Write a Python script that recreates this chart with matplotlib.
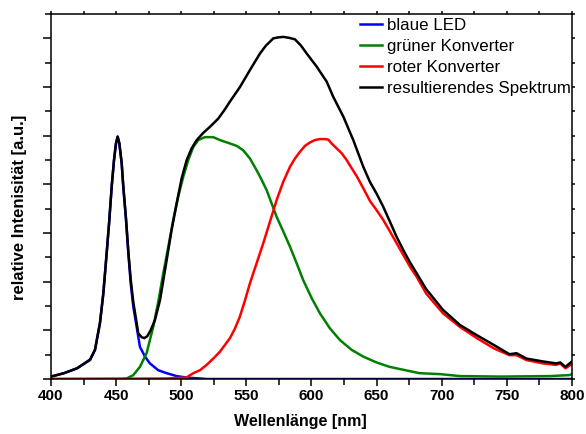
import matplotlib.pyplot as plt
import numpy as np
from matplotlib.ticker import MultipleLocator

plt.rcParams['font.family'] = ['Liberation Sans', 'DejaVu Sans']

# blaue LED
wl_blue = [400, 410, 420, 430, 433.8, 437.6, 440.2, 442.8, 444.8, 446.6, 448.4, 449.9,
           451.2, 452.5, 454.3, 455.5, 457.6, 459.4, 461.2, 463.2, 465.8, 468.3,
           472.2, 476, 482.4, 488.8, 496.5, 504, 520, 800]
val_blue = [0.05, 0.12, 0.22, 0.39, 0.6, 1.15, 1.76, 2.6, 3.27, 3.95, 4.5, 4.84,
            4.98, 4.84, 4.43, 3.95, 3.27, 2.58, 1.97, 1.49, 1.07, 0.66,
            0.46, 0.32, 0.18, 0.12, 0.06, 0.03, 0.0, 0.0]

# gruener Konverter
wl_green = [400, 455, 458, 463.2, 468.3, 473.4, 478.5, 482.4, 486.2, 490.1, 493.9,
            497.7, 501.6, 505.4, 509.3, 513.1, 518.2, 524.6, 529.7, 537.4, 542.6,
            547.6, 552.8, 557.9, 561.8, 565.6, 569.4, 573.3, 578.4, 583.5, 588.6,
            593.7, 600.2, 606.5, 614.2, 621.9, 630.8, 639.8, 650, 660, 670.5, 683,
            699, 714, 745, 783, 798, 800]
val_green = [0.0, 0.0, 0.01, 0.08, 0.25, 0.53, 1.07, 1.59, 2.17, 2.72, 3.27,
             3.75, 4.16, 4.5, 4.77, 4.91, 4.97, 4.97, 4.91, 4.84, 4.79,
             4.7, 4.53, 4.29, 4.09, 3.88, 3.61, 3.33, 3.03, 2.72, 2.38,
             2.03, 1.66, 1.35, 1.04, 0.8, 0.6, 0.46, 0.34, 0.25, 0.19, 0.12,
             0.1, 0.06, 0.05, 0.06, 0.08, 0.1]

# roter Konverter
wl_red = [400, 488, 496, 504, 509.3, 514.4, 519.5, 524.6, 529.7, 537.4, 541.3, 545,
          549, 552.8, 557.9, 563, 568.1, 573.3, 578.3, 583.5, 587.3, 591.2, 595,
          598.8, 602.7, 606.5, 610.4, 612.9, 615.5, 619.3, 623.2, 627, 630.9,
          634.7, 639.8, 644.9, 650, 655.1, 660.3, 665.4, 670.5, 675.6, 680.8, 688,
          701, 714, 727, 740, 752, 757.5, 765, 778, 788, 791, 795, 800]
val_red = [0.0, 0.01, 0.02, 0.03, 0.12, 0.18, 0.29, 0.42, 0.56, 0.84, 1.04, 1.28,
           1.62, 1.97, 2.38, 2.79, 3.23, 3.68, 4.05, 4.36, 4.53, 4.67, 4.79,
           4.86, 4.91, 4.93, 4.93, 4.92, 4.84, 4.74, 4.64, 4.5, 4.33,
           4.17, 3.92, 3.66, 3.47, 3.27, 3.03, 2.79, 2.55, 2.31, 2.1, 1.76,
           1.35, 1.07, 0.84, 0.63, 0.49, 0.49, 0.39, 0.32, 0.29, 0.32, 0.22, 0.31]

# resultierendes Spektrum
wl_sum = [400, 410, 420, 430, 433.8, 437.6, 440.2, 442.8, 444.8, 446.6, 448.4, 449.9,
          451.2, 452.5, 454.3, 455.5, 457.6, 459.4, 461.2, 463.2, 465.8, 467,
          469.6, 471.6, 474, 476.5, 479.8, 483.7, 488.8, 492.6, 496.5, 500.3,
          504.2, 508, 511.9, 517, 522, 528.4, 533, 537.4, 545.1, 552.8, 560.5,
          565, 570.7, 574.5, 578.4, 583, 587.3, 592, 596.3, 604, 611.7, 616.7,
          624.5, 632.1, 639.8, 644.9, 650, 655.1, 660.3, 665.4, 670.5, 675.6,
          680.8, 688, 701, 714, 727, 740, 752, 757.5, 765, 778, 788, 791, 795, 800]
val_sum = [0.05, 0.12, 0.22, 0.4, 0.6, 1.15, 1.76, 2.6, 3.27, 3.95, 4.5, 4.84,
           4.98, 4.84, 4.43, 3.97, 3.3, 2.62, 2.05, 1.58, 1.15, 0.94,
           0.86, 0.84, 0.88, 1.0, 1.21, 1.62, 2.44, 3.06, 3.61, 4.12,
           4.5, 4.74, 4.91, 5.06, 5.18, 5.35, 5.52, 5.7, 6.0, 6.35, 6.69,
           6.85, 7.0, 7.02, 7.03, 7.01, 6.98, 6.85, 6.69, 6.42, 6.11, 5.8,
           5.39, 4.91, 4.36, 4.05, 3.81, 3.54, 3.23, 2.92, 2.65, 2.4,
           2.17, 1.85, 1.42, 1.11, 0.9, 0.7, 0.51, 0.53, 0.42, 0.36, 0.32, 0.34, 0.25, 0.36]

fig = plt.figure(figsize=(5.86, 4.34), dpi=100)
ax = fig.add_axes([0.087, 0.1267, 0.889, 0.841])

lw = 1.8
ax.plot(wl_blue, val_blue, color='#0000ff', linewidth=lw, label='blaue LED')
ax.plot(wl_green, val_green, color='#008000', linewidth=lw, label='grüner Konverter')
ax.plot(wl_red, val_red, color='#ff0000', linewidth=lw, label='roter Konverter')
ax.plot(wl_sum, val_sum, color='black', linewidth=lw, label='resultierendes Spektrum')

ax.set_xlim(400, 800)
ax.set_ylim(0, 7.5)

ax.xaxis.set_major_locator(MultipleLocator(50))
ax.xaxis.set_minor_locator(MultipleLocator(25))
ax.yaxis.set_major_locator(MultipleLocator(1))
ax.yaxis.set_minor_locator(MultipleLocator(0.5))
ax.set_yticklabels([])

ax.tick_params(axis='x', which='major', direction='out', length=5, width=1.1,
               labelsize=11, pad=2)
ax.tick_params(axis='x', which='minor', direction='out', length=4, width=1.1)
ax.tick_params(axis='y', which='major', direction='out', length=6, width=1.1)
ax.tick_params(axis='y', which='minor', direction='out', length=4, width=1.1)
ax.tick_params(which='both', top=True, right=True)
for t in ax.xaxis.get_major_ticks() + ax.xaxis.get_minor_ticks():
    t.tick2line.set_markersize(2)
for t in ax.yaxis.get_major_ticks() + ax.yaxis.get_minor_ticks():
    t.tick2line.set_markersize(2)

for lbl in ax.get_xticklabels():
    lbl.set_fontweight('bold')

for s in ax.spines.values():
    s.set_linewidth(1.1)

ax.set_xlabel('Wellenlänge [nm]', fontsize=11.5, fontweight='bold')
ax.xaxis.set_label_coords(0.478, -0.095)
ax.set_ylabel('relative Intenisität [a.u.]', fontsize=12, fontweight='bold')
ax.yaxis.set_label_coords(-0.046, 0.47)

ax.legend(loc='upper left', bbox_to_anchor=(0.593, 0.99), frameon=False,
          fontsize=12.2, handlelength=1.3, handletextpad=0.3, labelspacing=0.36,
          borderaxespad=0, borderpad=0)

fig.savefig('out.png', dpi=100)
